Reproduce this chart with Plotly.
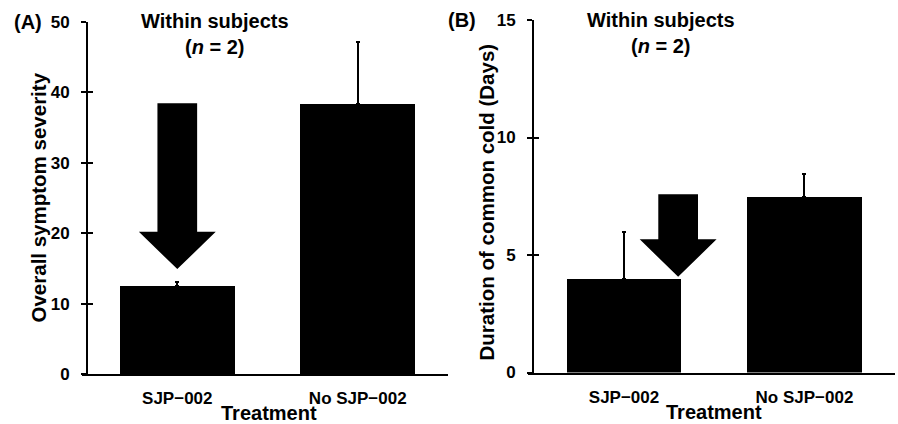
import plotly.graph_objects as go

# ---------------- data ----------------
categories = ["SJP\u2212002", "No SJP\u2212002"]
severity_mean = [12.5, 38.4]
severity_err = [0.6, 8.7]
duration_mean = [4.0, 7.45]
duration_err = [2.0, 1.0]
severity_ticks = [0, 10, 20, 30, 40, 50]
duration_ticks = [0, 5, 10, 15]

# arrow annotations (data coords): center x, top, head base, tip
arrow_a = dict(cx=0.0, top=38.45, base=20.2, tip=14.9)
arrow_b = dict(cx=0.3, top=7.58, base=5.67, tip=4.07)
SHAFT_HALF = 0.11
HEAD_HALF = 0.213

W, H = 898, 424
FONT = "Liberation Sans"

def px(x):
    return x / W

def py(y):
    return 1 - y / H

fig = go.Figure()

xs = [0, 1]
err_style = dict(type="data", symmetric=False, thickness=2, width=2, color="black")

fig.add_trace(go.Bar(
    x=xs, y=severity_mean, width=0.635, marker=dict(color="black", line=dict(width=0)),
    error_y=dict(array=severity_err, arrayminus=[0, 0], **err_style),
    xaxis="x", yaxis="y", showlegend=False))
fig.add_trace(go.Bar(
    x=xs, y=duration_mean, width=0.635, marker=dict(color="black", line=dict(width=0)),
    error_y=dict(array=duration_err, arrayminus=[0, 0], **err_style),
    xaxis="x2", yaxis="y2", showlegend=False))
# invisible traces to hold the inner-tick overlay axes
fig.add_trace(go.Scatter(x=[0], y=[0], mode="markers", marker=dict(opacity=0),
                         xaxis="x", yaxis="y3", showlegend=False, hoverinfo="skip"))
fig.add_trace(go.Scatter(x=[0], y=[0], mode="markers", marker=dict(opacity=0),
                         xaxis="x2", yaxis="y4", showlegend=False, hoverinfo="skip"))

tickfont = dict(family=FONT, size=17, color="black", weight="bold")

xcommon = dict(showline=True, linewidth=2, linecolor="black", ticks="",
               tickfont=tickfont, tickmode="array", tickvals=xs, ticktext=categories,
               showgrid=False, zeroline=False, fixedrange=True, ticklabelstandoff=8,
               automargin=False)
ycommon = dict(showline=True, linewidth=2, linecolor="black", ticks="outside",
               ticklen=5, tickwidth=2, tickcolor="black", tickfont=tickfont,
               showgrid=False, zeroline=False, anchor="free", ticklabelstandoff=8,
               automargin=False)
yinner = dict(ticks="inside", ticklen=5, tickwidth=2, tickcolor="black",
              showticklabels=False, showline=False, showgrid=False,
              zeroline=False, anchor="free", automargin=False)

fig.update_layout(
    width=W, height=H,
    margin=dict(l=0, r=0, t=0, b=0),
    paper_bgcolor="white", plot_bgcolor="white",
    bargap=0,
    xaxis=dict(domain=[px(82), px(448)], range=[-0.528, 1.5], anchor="y", **xcommon),
    xaxis2=dict(domain=[px(528), px(894.7)], range=[-0.532, 1.5], anchor="y2", **xcommon),
    yaxis=dict(domain=[py(374), py(22)], range=[0, 50], position=px(87),
               tickvals=severity_ticks, **ycommon),
    yaxis2=dict(domain=[py(372.5), py(20)], range=[0, 15], position=px(533),
                tickvals=duration_ticks, **ycommon),
    yaxis3=dict(overlaying="y", matches="y", position=px(87),
                tickvals=severity_ticks, **yinner),
    yaxis4=dict(overlaying="y2", matches="y2", position=px(533),
                tickvals=duration_ticks, **yinner),
)

# arrows
def arrow_path(a):
    c = a["cx"]
    pts = [(c - SHAFT_HALF, a["top"]), (c + SHAFT_HALF, a["top"]),
           (c + SHAFT_HALF, a["base"]), (c + HEAD_HALF, a["base"]),
           (c, a["tip"]), (c - HEAD_HALF, a["base"]), (c - SHAFT_HALF, a["base"])]
    return "M " + " L ".join(f"{x},{y}" for x, y in pts) + " Z"

fig.add_shape(type="path", path=arrow_path(arrow_a), xref="x", yref="y",
              fillcolor="black", line=dict(width=0))
fig.add_shape(type="path", path=arrow_path(arrow_b), xref="x2", yref="y2",
              fillcolor="black", line=dict(width=0))

def ann(text, x, y, size=20, angle=0):
    fig.add_annotation(text=text, x=px(x), y=py(y), xref="paper", yref="paper",
                       showarrow=False, xanchor="center", yanchor="middle",
                       textangle=angle,
                       font=dict(family=FONT, size=size, color="black", weight="bold"))

title = "Within subjects<br>(<i>n</i> = 2)"
ann(title, 215, 34)
ann(title, 661, 33)
ann("(A)", 28, 22)
ann("(B)", 462, 20)
ann("Overall symptom severity", 38, 197.5, size=20.5, angle=-90)
ann("Duration of common cold (Days)", 486, 202.5, size=20.5, angle=-90)
ann("Treatment", 269, 413)
ann("Treatment", 714, 412)

fig.write_html("out.html",
               config={"displayModeBar": False},
               post_script="document.body.style.margin='0';document.body.style.overflow='hidden';")
